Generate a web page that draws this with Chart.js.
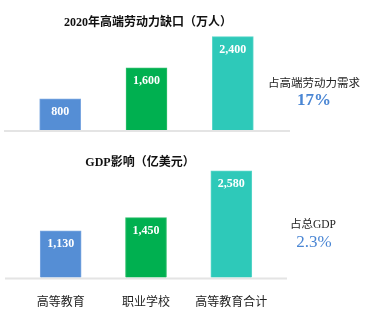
<!DOCTYPE html>
<html>
<head>
<meta charset="utf-8">
<script src="https://cdn.jsdelivr.net/npm/chart.js@4.4.1/dist/chart.umd.min.js"></script>
<style>
  body { margin: 0; background: #fff; }
  #wrap { position: relative; width: 369px; height: 324px; overflow: hidden; }
  #wrap canvas { position: absolute; left: 0; }
  .note { position: absolute; transform: translate(-50%, -50%); white-space: nowrap; font-family: "Liberation Serif", "Noto Sans CJK SC", serif; }
  .note.cap { font-size: 11.5px; color: #222; }
  .note.pct { font-size: 17px; color: #4a86d4; }
</style>
</head>
<body>
<div id="wrap">
  <canvas id="gapChart" width="369" height="140" style="top:0"></canvas>
  <canvas id="gdpChart" width="369" height="184" style="top:140px"></canvas>
  <div class="note cap" style="left:314px; top:82px">占高端劳动力需求</div>
  <div class="note pct" style="left:314px; top:100px; font-weight:bold">17%</div>
  <div class="note cap" style="left:313px; top:223px">占总GDP</div>
  <div class="note pct" style="left:314px; top:242px">2.3%</div>
</div>
<script>
const categories = ["高等教育", "职业学校", "高等教育合计"];
const gapValues = [800, 1600, 2400];
const gdpValues = [1130, 1450, 2580];
const barColors = ["#558ed5", "#00b050", "#2ec9b9"];
const borderColors = ["#7aa6e0", "#2fbf6c", "#5ad6c9"];

const TEXT_FONT = '"Liberation Serif", "Noto Sans CJK SC", serif';

// title, value labels and the light baseline are drawn by hand
const decorPlugin = {
  id: "decor",
  beforeDatasetsDraw(chart, args, opts) {
    const ctx = chart.ctx;
    const y = chart.scales.y.getPixelForValue(0);
    ctx.save();
    ctx.strokeStyle = "#e4e4e4";
    ctx.lineWidth = 2;
    ctx.beginPath();
    ctx.moveTo(opts.lineFrom, y + 1);
    ctx.lineTo(opts.lineTo, y + 1);
    ctx.stroke();
    ctx.restore();
  },
  afterDatasetsDraw(chart, args, opts) {
    const ctx = chart.ctx;
    ctx.save();
    ctx.textAlign = "center";
    ctx.textBaseline = "middle";
    ctx.fillStyle = "#fff";
    ctx.font = "bold 12px " + TEXT_FONT;
    const meta = chart.getDatasetMeta(0);
    meta.data.forEach((bar, i) => {
      const v = chart.data.datasets[0].data[i];
      ctx.fillText(v.toLocaleString("en-US"), bar.x, bar.y + 13);
    });
    ctx.fillStyle = "#111";
    ctx.font = "bold 12px " + TEXT_FONT;
    ctx.fillText(opts.title, opts.titleX, opts.titleY);
    ctx.restore();
  }
};

function createBarChart(canvasId, values, yMax, padding, decor, showLabels) {
  return new Chart(document.getElementById(canvasId), {
    type: "bar",
    data: {
      labels: categories,
      datasets: [{
        data: values,
        backgroundColor: barColors,
        borderColor: borderColors,
        borderWidth: 1,
        barThickness: 41
      }]
    },
    options: {
      responsive: false,
      animation: false,
      layout: { padding },
      plugins: {
        legend: { display: false },
        tooltip: { enabled: false },
        decor
      },
      scales: {
        x: {
          display: showLabels,
          grid: { display: false, drawTicks: false },
          border: { display: false },
          ticks: {
            padding: 18,
            color: "#222",
            font: { family: TEXT_FONT, size: 12 }
          }
        },
        y: { display: false, min: 0, max: yMax }
      }
    },
    plugins: [decorPlugin]
  });
}

createBarChart("gapChart", gapValues, 2570,
  { left: 17, right: 93, top: 30, bottom: 10 },
  { title: "2020年高端劳动力缺口（万人）", titleX: 148, titleY: 23, lineFrom: 4, lineTo: 290 },
  false);

createBarChart("gdpChart", gdpValues, 2720,
  { left: 18, right: 95, top: 25, bottom: -4 },
  { title: "GDP影响（亿美元）", titleX: 140, titleY: 23, lineFrom: 5, lineTo: 287 },
  true);
</script>
</body>
</html>
